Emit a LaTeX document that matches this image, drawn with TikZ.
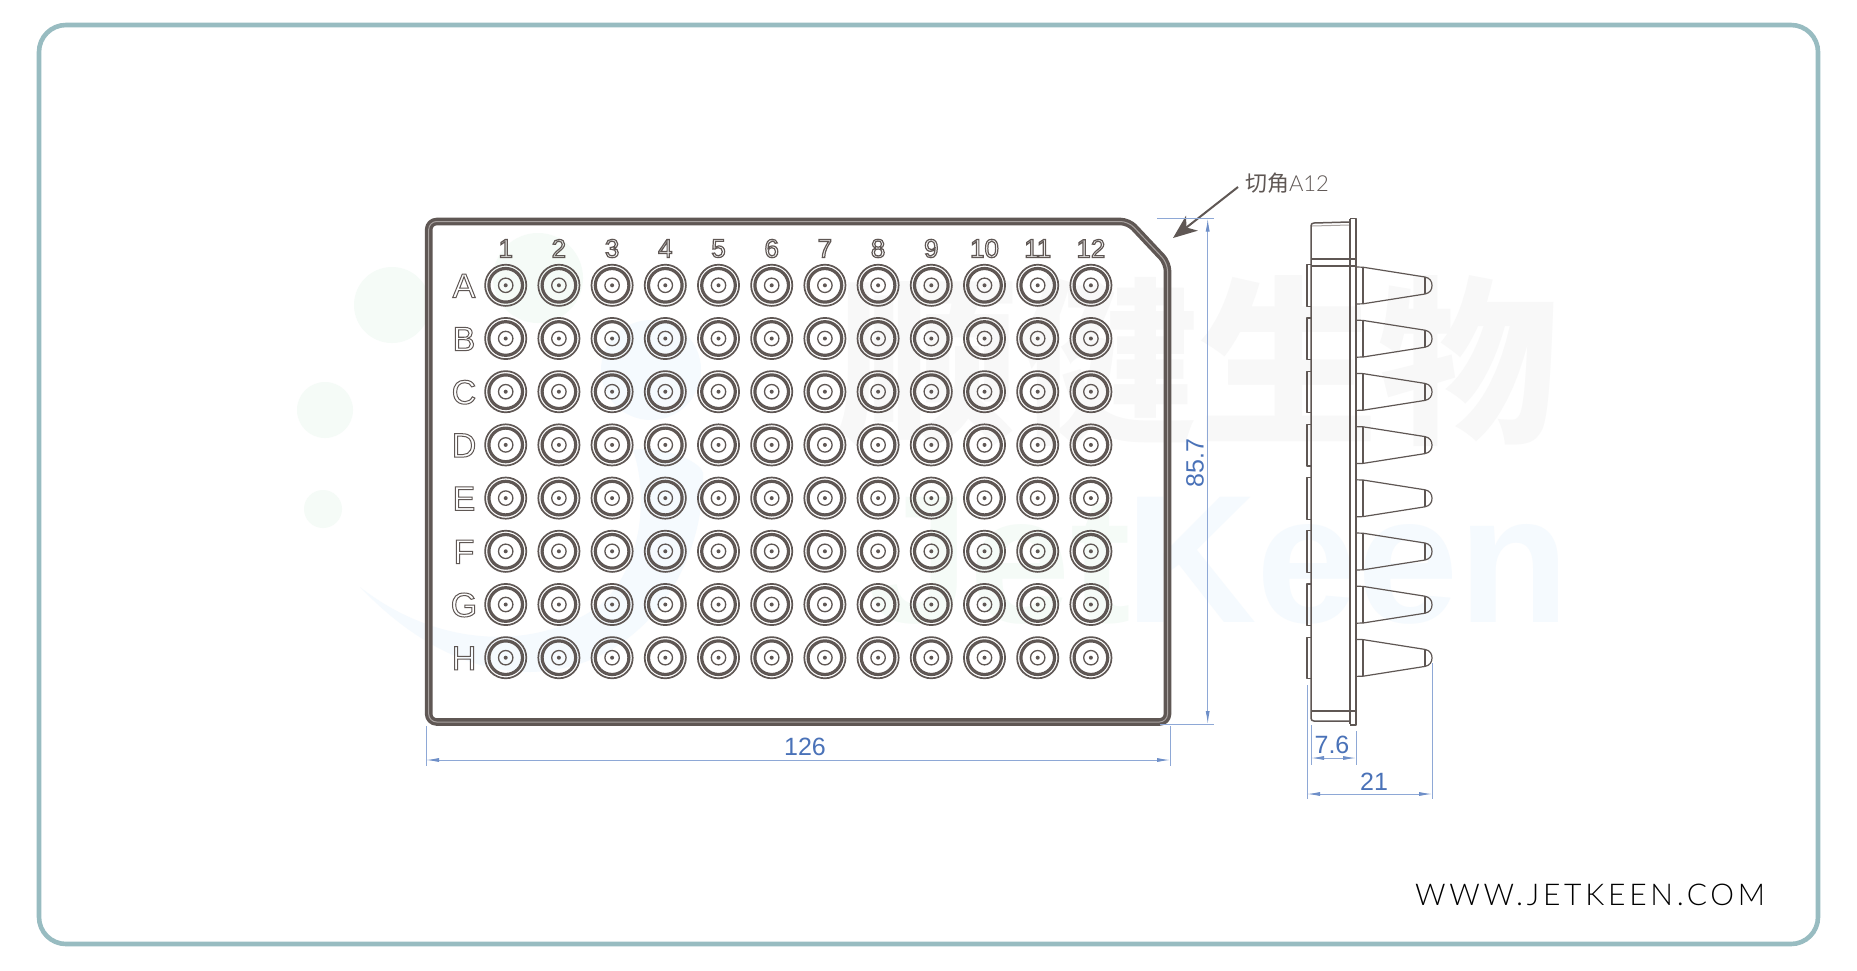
\documentclass[tikz,border=0pt]{standalone}
\usepackage{fontspec}
\usetikzlibrary{arrows.meta}
\setmainfont{Liberation Sans}
\newfontfamily\cjk{Noto Sans CJK SC}
\newfontfamily\webfont[LetterSpace=12.5]{Lato Light}
\newfontfamily\calloutfont{Lato Light}
\definecolor{frameteal}{HTML}{98BCC1}
\definecolor{ink}{HTML}{5F5754}
\definecolor{inklight}{HTML}{A8A2A0}
\definecolor{labelink}{HTML}{5F5754}
\definecolor{dimtext}{HTML}{4A72B8}
\definecolor{dimline}{HTML}{8EA8D6}
\definecolor{dimtip}{HTML}{6E8FC8}
\definecolor{wmgreen}{HTML}{F5FBF7}
\definecolor{wmblue}{HTML}{F5FAFE}
\definecolor{wmgrey}{HTML}{F8F8F8}
\newcommand{\outlined}[2][0.8]{\special{pdf:code q 1 Tr #1 w}#2\special{pdf:code Q}}
\newcommand{\pxfont}[1]{\fontsize{#1}{#1}\selectfont}
\tikzset{
  x=1pt,y=-1pt,
  plain/.style={inner sep=0pt,outer sep=0pt},
  wmtext/.style={plain,anchor=base west},
  dimlabel/.style={plain,text=dimtext,font=\pxfont{25}},
  dimrule/.style={draw=dimline,line width=0.9pt},
  dimarrow/.style={dimrule,{Latex[length=13pt,width=4pt,color=dimtip]}-{Latex[length=13pt,width=4pt,color=dimtip]}},
  sideline/.style={draw=ink,line width=1.2pt,line join=round},
}
\begin{document}
\begin{tikzpicture}
\useasboundingbox (0,0) rectangle (1857,970);
\fill[white] (0,0) rectangle (1857,970);
% watermark
\fill[wmgreen] (392,305) circle[radius=38pt] (325,410) circle[radius=28pt] (323,509) circle[radius=19pt] (538,278) circle[radius=45pt];
\fill[wmblue] (651,370) circle[radius=50pt];
\fill[wmblue] (360,587) .. controls (420,650) and (480,672) .. (530,672) .. controls (640,670) and (705,570) .. (703,473) .. controls (700,460) and (660,445) .. (633,450) .. controls (650,500) and (640,570) .. (600,605) .. controls (540,650) and (440,650) .. (360,587) -- cycle;
\node[plain,text=wmgrey,font=\cjk\bfseries\pxfont{180}] (wmname) at (1198,361) {顺健生物};
\node[wmtext,text=wmgreen,font=\bfseries\pxfont{182}] (wmjet) at (868,622) {Jet};
\node[wmtext,text=wmblue,font=\bfseries\pxfont{182}] (wmkeen) at (1125,622) {Keen};
% frame
\draw[frameteal,line width=4.6pt,rounded corners=27pt] (39,25) rectangle (1818,944);
% plate
\def\platepath{(428.7,221.5) -- (1128.5,221.5) -- (1167.5,263) -- (1167.5,722) -- (428.7,722) -- cycle}
\draw[ink,line width=7.6pt,rounded corners=8pt,line join=round] \platepath;
\draw[inklight,line width=1pt,rounded corners=8pt] \platepath;
% wells
\foreach \r in {0,...,7}{
  \foreach \c in {0,...,11}{
    \pgfmathsetmacro{\wx}{505.7+53.2*\c}
    \pgfmathsetmacro{\wy}{285.3+53.2*\r}
    \draw[ink,line width=1.7pt] (\wx,\wy) circle[radius=20.6pt];
    \draw[ink,line width=3.2pt] (\wx,\wy) circle[radius=16.8pt];
    \draw[ink,line width=1.3pt] (\wx,\wy) circle[radius=7.2pt];
    \fill[ink] (\wx,\wy) circle[radius=2pt];
  }
}
% column numbers
\foreach \lab [count=\c from 0] in {1,...,12}{
  \pgfmathsetmacro{\wx}{505.7+53.2*\c}
  \node[plain,text=labelink,font=\pxfont{26}] (col\lab) at (\wx,248.5) {\outlined[1.2]{\lab}};
}
% row letters
\foreach \lab [count=\r from 0] in {A,B,C,D,E,F,G,H}{
  \pgfmathsetmacro{\wy}{285.8+53.2*\r}
  \node[plain,text=labelink,font=\pxfont{34}] (row\lab) at (464,\wy) {\outlined[1.0]{\lab}};
}
% chamfer callout
\node[plain,anchor=west,text=labelink,font=\pxfont{22}] (chamfer) at (1245,183) {{\cjk 切角}{\calloutfont A12}};
\coordinate (chamfertip) at (1173,238);
\draw[ink,line width=2pt,-{Stealth[length=24pt,width=19pt,inset=7pt]}] (1238,187) -- (chamfertip);
% side view
\draw[sideline,line width=1.5pt] (1349,222) -- (1314,223) .. controls (1312,223) and (1311,224) .. (1311,226) -- (1311,718) .. controls (1311,720) and (1312,721) .. (1314,721) -- (1350,721);
\draw[inklight,line width=1pt] (1312,226) -- (1349,225);
\draw[sideline,line width=2pt] (1350,219) -- (1350,724);
\draw[sideline] (1350,218.5) -- (1356,218.5) -- (1356,725) -- (1350,725);
\draw[sideline] (1311,259) -- (1356,259);
\draw[sideline] (1311,266) -- (1356,266);
\draw[sideline] (1311,711) -- (1356,711);
\foreach \r in {0,...,7}{
  \pgfmathsetmacro{\cy}{285.5+53.2*\r}
  \draw[sideline] (1311,\cy-20.8) -- (1307,\cy-20.8) -- (1307,\cy+20.8) -- (1311,\cy+20.8);
  \draw[sideline] (1356,\cy-18.5) -- (1363,\cy-18.3) -- (1425,\cy-8.5) .. controls (1430,\cy-7.5) and (1432,\cy-4) .. (1432,\cy) .. controls (1432,\cy+4) and (1430,\cy+7.5) .. (1425,\cy+8.5) -- (1363,\cy+18.3) -- (1356,\cy+18.5);
  \draw[sideline] (1363,\cy-18.3) -- (1363,\cy+18.3);
  \draw[sideline] (1425,\cy-8.5) -- (1425,\cy+8.5);
}
% dimensions
\coordinate (hl) at (426,760); \coordinate (hr) at (1170,760);
\coordinate (vt) at (1207.7,218.5); \coordinate (vb) at (1207.7,724);
\coordinate (sl) at (1311,758); \coordinate (sr) at (1356,758);
\coordinate (tl) at (1307,794); \coordinate (tr) at (1432,794);
\draw[dimrule] (426,726) -- (426,766);
\draw[dimrule] (1170,726) -- (1170,766);
\draw[dimrule] (1157,218.5) -- (1214,218.5);
\draw[dimrule] (1160,724) -- (1214,724);
\draw[dimrule] (1311,725) -- (1311,765);
\draw[dimrule] (1356,731) -- (1356,765);
\draw[dimrule] (1307,685) -- (1307,799);
\draw[dimrule] (1432,663) -- (1432,799);
\draw[dimarrow] (hl) -- (hr);
\draw[dimarrow] (vt) -- (vb);
\draw[dimarrow] (sl) -- (sr);
\draw[dimarrow] (tl) -- (tr);
\node[dimlabel] (dim126) at (805,747) {126};
\node[dimlabel,rotate=90] (dim857) at (1195,463) {85.7};
\node[dimlabel] (dim76) at (1332,745) {7.6};
\node[dimlabel] (dim21) at (1374,782) {21};
% website
\node[plain,anchor=base west,text=black,font=\webfont\pxfont{30}] (web) at (1415,905) {WWW.JETKEEN.COM};
\end{tikzpicture}
\end{document}
